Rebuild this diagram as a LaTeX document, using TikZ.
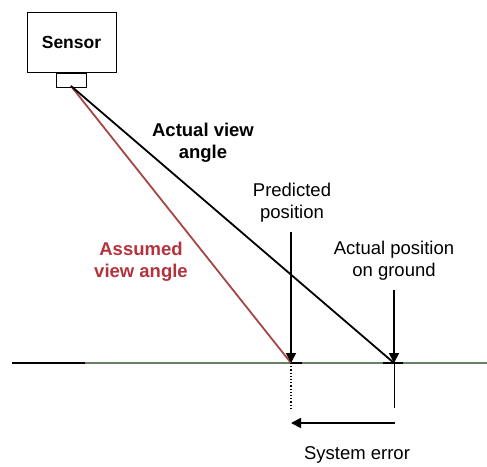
\documentclass[tikz,border=0pt]{standalone}
\usepackage{fontspec}
\setmainfont{Liberation Sans}
\usetikzlibrary{arrows.meta}
\definecolor{redline}{RGB}{165,70,70}
\definecolor{redtext}{RGB}{180,50,60}
\definecolor{ground}{RGB}{105,125,105}
\begin{document}
\begin{tikzpicture}[x=1pt,y=-1pt,
  lbl/.style={align=center,font=\fontsize{18.5}{22}\selectfont,inner sep=0pt},
  blbl/.style={lbl,font=\fontsize{18.5}{22}\selectfont\bfseries},
  tip/.style={-{Triangle[length=10pt,width=10pt]},line width=1.8pt},
  ]
\useasboundingbox (0,0) rectangle (487,466);
% sensor
\node[draw,line width=1pt,minimum width=89pt,minimum height=60pt,inner sep=0pt,
  font=\fontsize{17.5}{20}\selectfont\bfseries] (sensor) at (71.5,42) {Sensor};
\node[draw,line width=1pt,minimum width=30pt,minimum height=14pt,inner sep=0pt,anchor=north] (lens) at (sensor.south) {};
\coordinate (src) at (71,86);
% ground
\coordinate (gl) at (12,363);
\coordinate (gk) at (85,363);
\coordinate (gr) at (487,363);
\draw[ground,line width=2.2pt] (gk) -- (gr);
\draw[black,line width=2.2pt] (gl) -- (gk);
\coordinate (pp) at (291,363);
\coordinate (ap) at (394,363);
\draw[black,line width=2.2pt] (290,363) -- (302,363);
\draw[black,line width=2.2pt] (383,363) -- (403,363);
% view lines
\draw[redline,line width=1.8pt] (src) -- (pp);
\draw[black,line width=1.8pt] (src) -- (ap);
% labels
\node[blbl] (avl) at (203,143) {Actual view\\angle};
\node[blbl,text=redtext] (asl) at (141,262) {Assumed\\view angle};
\node[lbl] (pl) at (292,203) {Predicted\\position};
\node[lbl] (al) at (394,261) {Actual position\\on ground};
% arrows
\coordinate (ptop) at (291,232);
\coordinate (atop) at (394,290);
\draw[tip] (ptop) -- (pp);
\draw[tip] (atop) -- (ap);
% below ground
\coordinate (pb) at (291,408);
\coordinate (ab) at (394,408);
\draw[line width=1.2pt,dotted] (pp) -- (pb);
\draw[line width=0.7pt] (ap) -- (ab);
\coordinate (e1) at (395,423);
\coordinate (e0) at (291,423);
\draw[tip] (e1) -- (e0);
\node[lbl] (se) at (357,455) {System error};
\end{tikzpicture}
\end{document}
